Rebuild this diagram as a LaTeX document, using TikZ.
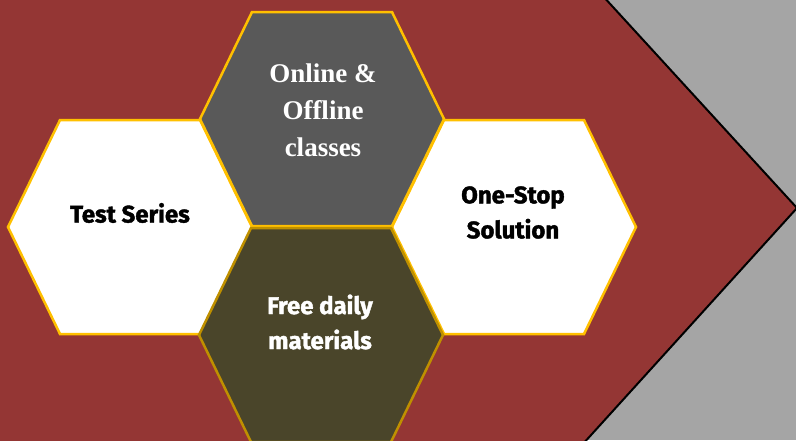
\documentclass[tikz,border=0pt]{standalone}
\usepackage{fontspec}
\setmainfont{Liberation Serif}
\newfontfamily\hexsans{Fira Sans}[BoldFeatures={FakeBold=1.6}]
\definecolor{chevred}{HTML}{943634}
\definecolor{bggrey}{HTML}{A5A5A5}
\definecolor{hexgold}{HTML}{FFC000}
\definecolor{hexdarkgold}{HTML}{BF9000}
\definecolor{topgrey}{HTML}{595959}
\definecolor{olivefill}{HTML}{4A452A}
\begin{document}
\begin{tikzpicture}[x=1pt,y=-1pt,
  hexpic/.pic={\path[pic actions] (-122,0) -- (-70,-107) -- (70,-107) -- (122,0) -- (70,107) -- (-70,107) -- cycle;},
  hexcell/.style={line width=2.5pt, line join=miter, draw=hexgold},
  serlabel/.style={font=\bfseries\fontsize{27}{37}\selectfont, text=white, align=center},
  sanlabel/.style={font=\hexsans\bfseries\fontsize{24}{35}\selectfont, align=center}]
\useasboundingbox (0,0) rectangle (796,440);
\fill[bggrey] (0,0) rectangle (796,440);
\clip (0,0) rectangle (796,440);
\coordinate (chtop) at (602,-5);
\coordinate (chtip) at (797,208);
\coordinate (chbot) at (582,445);
\fill[chevred] (-5,-5) -- (chtop) -- (chtip) -- (chbot) -- (-5,445) -- cycle;
\draw[line width=2pt] (chtop) -- (chtip) -- (chbot);
% hexagon centres
\coordinate (hL) at (130,227);
\coordinate (hR) at (514,227);
\coordinate (hT) at (322,119);
\coordinate (hB) at (321,335);
\pic[hexcell, fill=white] at (hL) {hexpic};
\pic[hexcell, fill=white] at (hR) {hexpic};
\pic[hexcell, fill=topgrey] at (hT) {hexpic};
\pic[hexcell, draw=hexdarkgold, fill=olivefill] at (hB) {hexpic};
% labels
\node[sanlabel] (ts) at (130,213) {Test Series};
\node[sanlabel] (os) at (513,212.5) {One-Stop\\Solution};
\node[sanlabel, text=white] (fd) at (320,322) {Free daily\\materials};
\node[serlabel] (oo) at (323,110) {Online \&\\Offline\\classes};
\end{tikzpicture}
\end{document}
